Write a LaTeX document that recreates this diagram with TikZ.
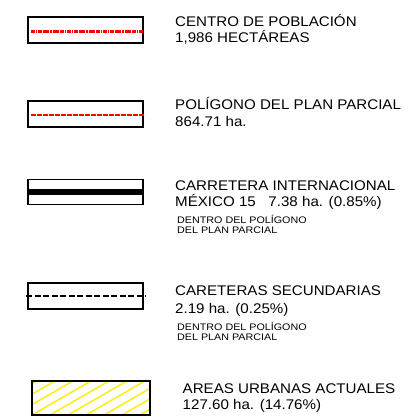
\documentclass[tikz,border=0pt]{standalone}
\usepackage{fontspec}
\setmainfont{Liberation Sans}
\begin{document}
\begin{tikzpicture}[x=1pt,y=-1pt,
  frame/.style={draw=black,line width=1.4pt},
  big/.style={anchor=base west,inner sep=0pt,font=\fontsize{14}{16}\selectfont,xscale=1.08},
  small/.style={anchor=base west,inner sep=0pt,font=\fontsize{9.5}{11}\selectfont,xscale=1.13}]
\useasboundingbox (0,0) rectangle (410,417);
% box 1
\node[frame,minimum width=115pt,minimum height=26pt,inner sep=0pt] (b1) at (85.5,30) {};
\coordinate (b1l) at (31,31.5); \coordinate (b1r) at (143,31.5);
\draw[red,line width=2.6pt,dash pattern=on 4pt off 0.8pt on 1.6pt off 0.8pt] (b1l) -- (b1r);
\node[big] (t1a) at (175,27) {CENTRO DE POBLACIÓN};
\node[big] (t1b) at (175,43) {1,986 HECTÁREAS};
% box 2
\node[frame,minimum width=115pt,minimum height=26pt,inner sep=0pt] (b2) at (85.5,114) {};
\coordinate (b2l) at (31,115); \coordinate (b2r) at (145,115);
\draw[red,line width=1.4pt,dash pattern=on 5pt off 1pt] (b2l) -- (b2r);
\node[big] (t2a) at (175,110) {POLÍGONO DEL PLAN PARCIAL};
\node[big] (t2b) at (175,126) {864.71 ha.};
% box 3
\node[frame,minimum width=115pt,minimum height=25pt,inner sep=0pt] (b3) at (85.5,192) {};
\draw[black,line width=6pt] (b3.west) -- (b3.east);
\node[big] (t3a) at (175,190) {CARRETERA INTERNACIONAL};
\node[big] (t3b) at (175,206.5) {MÉXICO 15\ \ \ 7.38 ha. (0.85\%)};
\node[small] (t3c) at (177,223.5) {DENTRO DEL POLÍGONO};
\node[small] (t3d) at (177,233) {DEL PLAN PARCIAL};
% box 4
\node[frame,minimum width=115pt,minimum height=26pt,inner sep=0pt] (b4) at (85.5,296) {};
\coordinate (b4l) at (26,296); \coordinate (b4r) at (146,296);
\draw[black,line width=2pt,dash pattern=on 6pt off 2.5pt] (b4l) -- (b4r);
\node[big] (t4a) at (175,295) {CARETERAS SECUNDARIAS};
\node[big] (t4b) at (175,313) {2.19 ha. (0.25\%)};
\node[small] (t4c) at (177,330.5) {DENTRO DEL POLÍGONO};
\node[small] (t4d) at (177,340) {DEL PLAN PARCIAL};
% box 5
\begin{scope}
\clip (32,381) rectangle (150,415);
\foreach \i in {-4,...,8} {
  \draw[yellow!95!orange,line width=1.4pt] (32+18*\i,415) -- ++(-30:150);
}
\end{scope}
\node[frame,minimum width=118pt,minimum height=34pt,inner sep=0pt] (b5) at (91,398) {};
\node[big] (t5a) at (182.5,393) {AREAS URBANAS ACTUALES};
\node[big] (t5b) at (182.5,409) {127.60 ha. (14.76\%)};
\end{tikzpicture}
\end{document}
